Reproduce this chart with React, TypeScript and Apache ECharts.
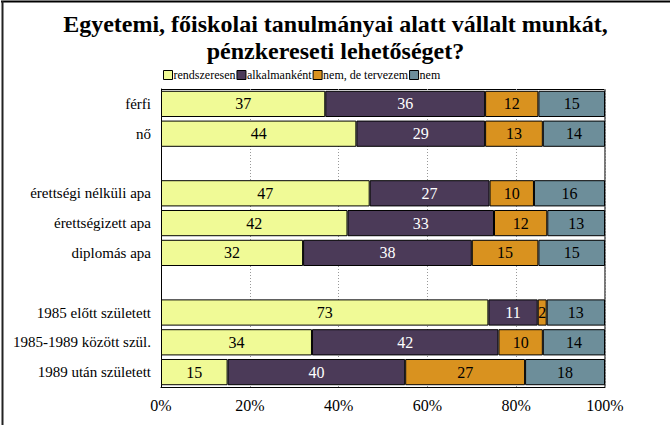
import React, { useEffect, useRef } from "react";
import * as echarts from "echarts";

const categories = [
  "férfi",
  "nő",
  "",
  "érettségi nélküli apa",
  "érettségizett apa",
  "diplomás apa",
  " ",
  "1985 előtt született",
  "1985-1989 között szül.",
  "1989 után született",
];
const seriesNames = ["rendszeresen", "alkalmanként", "nem, de tervezem", "nem"];
const rendszeresen = [37, 44, null, 47, 42, 32, null, 73, 34, 15];
const alkalmankent = [36, 29, null, 27, 33, 38, null, 11, 42, 40];
const nemDeTervezem = [12, 13, null, 10, 12, 15, null, 2, 10, 27];
const nem = [15, 14, null, 16, 13, 15, null, 13, 14, 18];

const colors = ["#F0FA96", "#4B3A58", "#D9921F", "#6D8E9A"];
const labelColors = ["#000", "#fff", "#000", "#000"];
const serif = "Liberation Serif";

export default function App() {
  const ref = useRef<HTMLDivElement>(null);
  useEffect(() => {
    document.body.style.margin = "0";
    const chart = echarts.init(ref.current!, null, { renderer: "svg" });
    const raw = [rendszeresen, alkalmankent, nemDeTervezem, nem];
    const sums = categories.map((_, i) =>
      raw.reduce((s, arr) => s + (arr[i] ?? 0), 0)
    );
    chart.setOption({
      animation: false,
      backgroundColor: "#fff",
      textStyle: { fontFamily: serif },
      title: {
        text: "Egyetemi, főiskolai tanulmányai alatt vállalt munkát,\npénzkereseti lehetőséget?",
        left: "center",
        top: 5,
        textStyle: {
          fontFamily: serif,
          fontWeight: "bold",
          fontSize: 24,
          lineHeight: 27,
          color: "#000",
        },
      },
      legend: {
        left: 158,
        top: 64,
        itemWidth: 9,
        itemHeight: 9,
        itemGap: 1,
        icon: "rect",
        textStyle: { fontFamily: serif, fontSize: 12, color: "#000", padding: [0, 0, 0, -4] },
        itemStyle: { borderColor: "#000", borderWidth: 1 },
        data: seriesNames,
      },
      grid: { left: 161, right: 66, top: 89, bottom: 38 },
      xAxis: {
        type: "value",
        min: 0,
        max: 100,
        interval: 20,
        axisLabel: {
          formatter: "{value}%",
          fontFamily: serif,
          fontSize: 16,
          color: "#000",
          margin: 10,
        },
        axisLine: { show: true, lineStyle: { color: "#000", width: 1 } },
        axisTick: { show: false },
        splitLine: { show: true, lineStyle: { color: "#999", type: [1, 2], width: 1 } },
      },
      yAxis: {
        type: "category",
        inverse: true,
        data: categories,
        axisLabel: { fontFamily: serif, fontSize: 15, color: "#000", margin: 10 },
        axisLine: { show: true, lineStyle: { color: "#000", width: 1 } },
        axisTick: { show: false },
      },
      graphic: [
        { type: "line", shape: { x1: 161, y1: 89.5, x2: 605, y2: 89.5 }, style: { stroke: "#000", lineWidth: 1 } },
        { type: "line", shape: { x1: 605, y1: 89, x2: 605, y2: 387 }, style: { stroke: "#777", lineWidth: 2 } },
        { type: "line", shape: { x1: 1, y1: 1.5, x2: 670, y2: 1.5 }, style: { stroke: "#000", lineWidth: 2 } },
        { type: "line", shape: { x1: 2.5, y1: 1, x2: 2.5, y2: 425 }, style: { stroke: "#222", lineWidth: 2 } },
      ],
      series: seriesNames.map((name, si) => ({
        name,
        type: "bar",
        stack: "total",
        barCategoryGap: "12%",
        data: raw[si].map((v, i) => (v == null ? null : (v / sums[i]) * 100)),
        itemStyle: { color: colors[si], borderColor: "#000", borderWidth: 1 },
        label: {
          show: true,
          position: "inside",
          fontFamily: serif,
          fontSize: 16,
          color: labelColors[si],
          formatter: (p: any) => String(raw[si][p.dataIndex] ?? ""),
        },
      })),
    });
    return () => chart.dispose();
  }, []);
  return <div ref={ref} style={{ width: 671, height: 425 }} />;
}
